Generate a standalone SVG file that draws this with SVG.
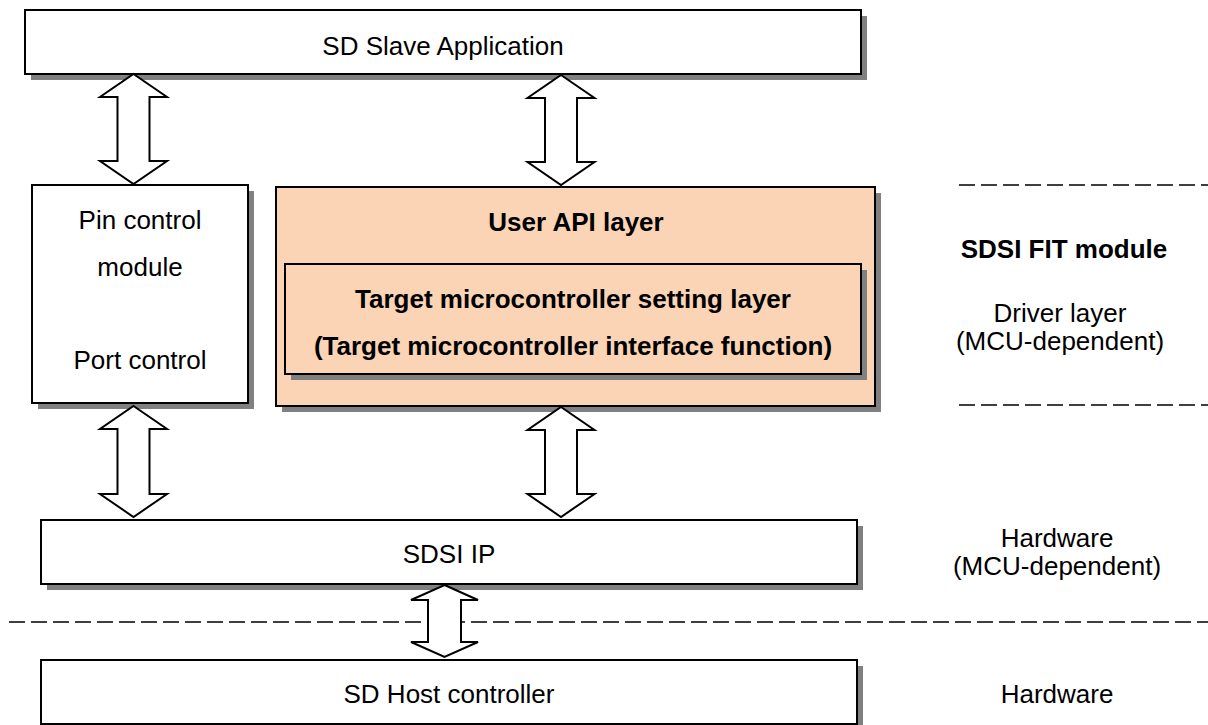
<svg xmlns="http://www.w3.org/2000/svg" width="1208" height="725" viewBox="0 0 1208 725">
<style>
.box{stroke:#000;stroke-width:2;fill:#fff}
.peach{fill:#FAD4B5}
.sh{fill:#808080;stroke:none}
.t{font-family:"Liberation Sans",Arial,sans-serif;font-size:26px;fill:#000;text-anchor:middle}
.b{font-weight:bold}
.arr{fill:#fff;stroke:#000;stroke-width:2;stroke-linejoin:miter}
.dash{stroke:#000;stroke-width:1.5;stroke-dasharray:16 6;fill:none}
</style>
<rect width="1208" height="725" fill="#fff"/>
<g id="separators">
<line class="dash" x1="959" y1="185" x2="1208" y2="185"/>
<line class="dash" x1="959" y1="405" x2="1208" y2="405"/>
<line class="dash" x1="9" y1="622" x2="1208" y2="622"/>
</g>
<g id="app">
<rect class="sh" x="31" y="16" width="836" height="64"/>
<rect class="box" x="25" y="10" width="836" height="64"/>
<text class="t" x="443" y="55">SD Slave Application</text>
</g>
<g id="pin">
<rect class="sh" x="38" y="191" width="216" height="218"/>
<rect class="box" x="32" y="185" width="216" height="218"/>
<text class="t" x="140" y="229">Pin control</text>
<text class="t" x="140" y="276">module</text>
<text class="t" x="140" y="369">Port control</text>
</g>
<g id="api">
<rect class="sh" x="282" y="193" width="599" height="219"/>
<rect class="box peach" x="276" y="187" width="599" height="219"/>
<text class="t b" x="576" y="231">User API layer</text>
</g>
<g id="target">
<rect class="sh" x="291" y="270" width="576" height="110"/>
<rect class="box peach" x="285" y="264" width="576" height="110"/>
<text class="t b" x="573" y="308">Target microcontroller setting layer</text>
<text class="t b" x="573" y="355">(Target microcontroller interface function)</text>
</g>
<g id="sdsi">
<rect class="sh" x="47" y="526" width="816" height="64"/>
<rect class="box" x="41" y="520" width="816" height="64"/>
<text class="t" x="449" y="563">SDSI IP</text>
</g>
<g id="host">
<rect class="sh" x="47" y="666" width="816" height="64"/>
<rect class="box" x="41" y="660" width="816" height="64"/>
<text class="t" x="449" y="703">SD Host controller</text>
</g>
<g id="labels">
<text class="t b" x="1064" y="258">SDSI FIT module</text>
<text class="t" x="1060" y="322">Driver layer</text>
<text class="t" x="1060" y="350">(MCU-dependent)</text>
<text class="t" x="1057" y="547">Hardware</text>
<text class="t" x="1057" y="575">(MCU-dependent)</text>
<text class="t" x="1057" y="703">Hardware</text>
</g>
<g id="connectors">
<path class="arr" d="M133.5,74 L167,97 L149.5,97 L149.5,161 L167,161 L133.5,184 L100,161 L117.5,161 L117.5,97 L100,97 Z"/>
<path class="arr" d="M561,75 L594.5,98 L577,98 L577,162 L594.5,162 L561,185 L527.5,162 L545,162 L545,98 L527.5,98 Z"/>
<path class="arr" d="M133.5,406 L167,429 L149.5,429 L149.5,494 L167,494 L133.5,517 L100,494 L117.5,494 L117.5,429 L100,429 Z"/>
<path class="arr" d="M561,407 L594.5,430 L577,430 L577,494 L594.5,494 L561,517 L527.5,494 L545,494 L545,430 L527.5,430 Z"/>
<path class="arr" d="M444.5,585 L478,600 L461,600 L461,642 L478,642 L444.5,657 L411,642 L428,642 L428,600 L411,600 Z"/>
</g>
</svg>
